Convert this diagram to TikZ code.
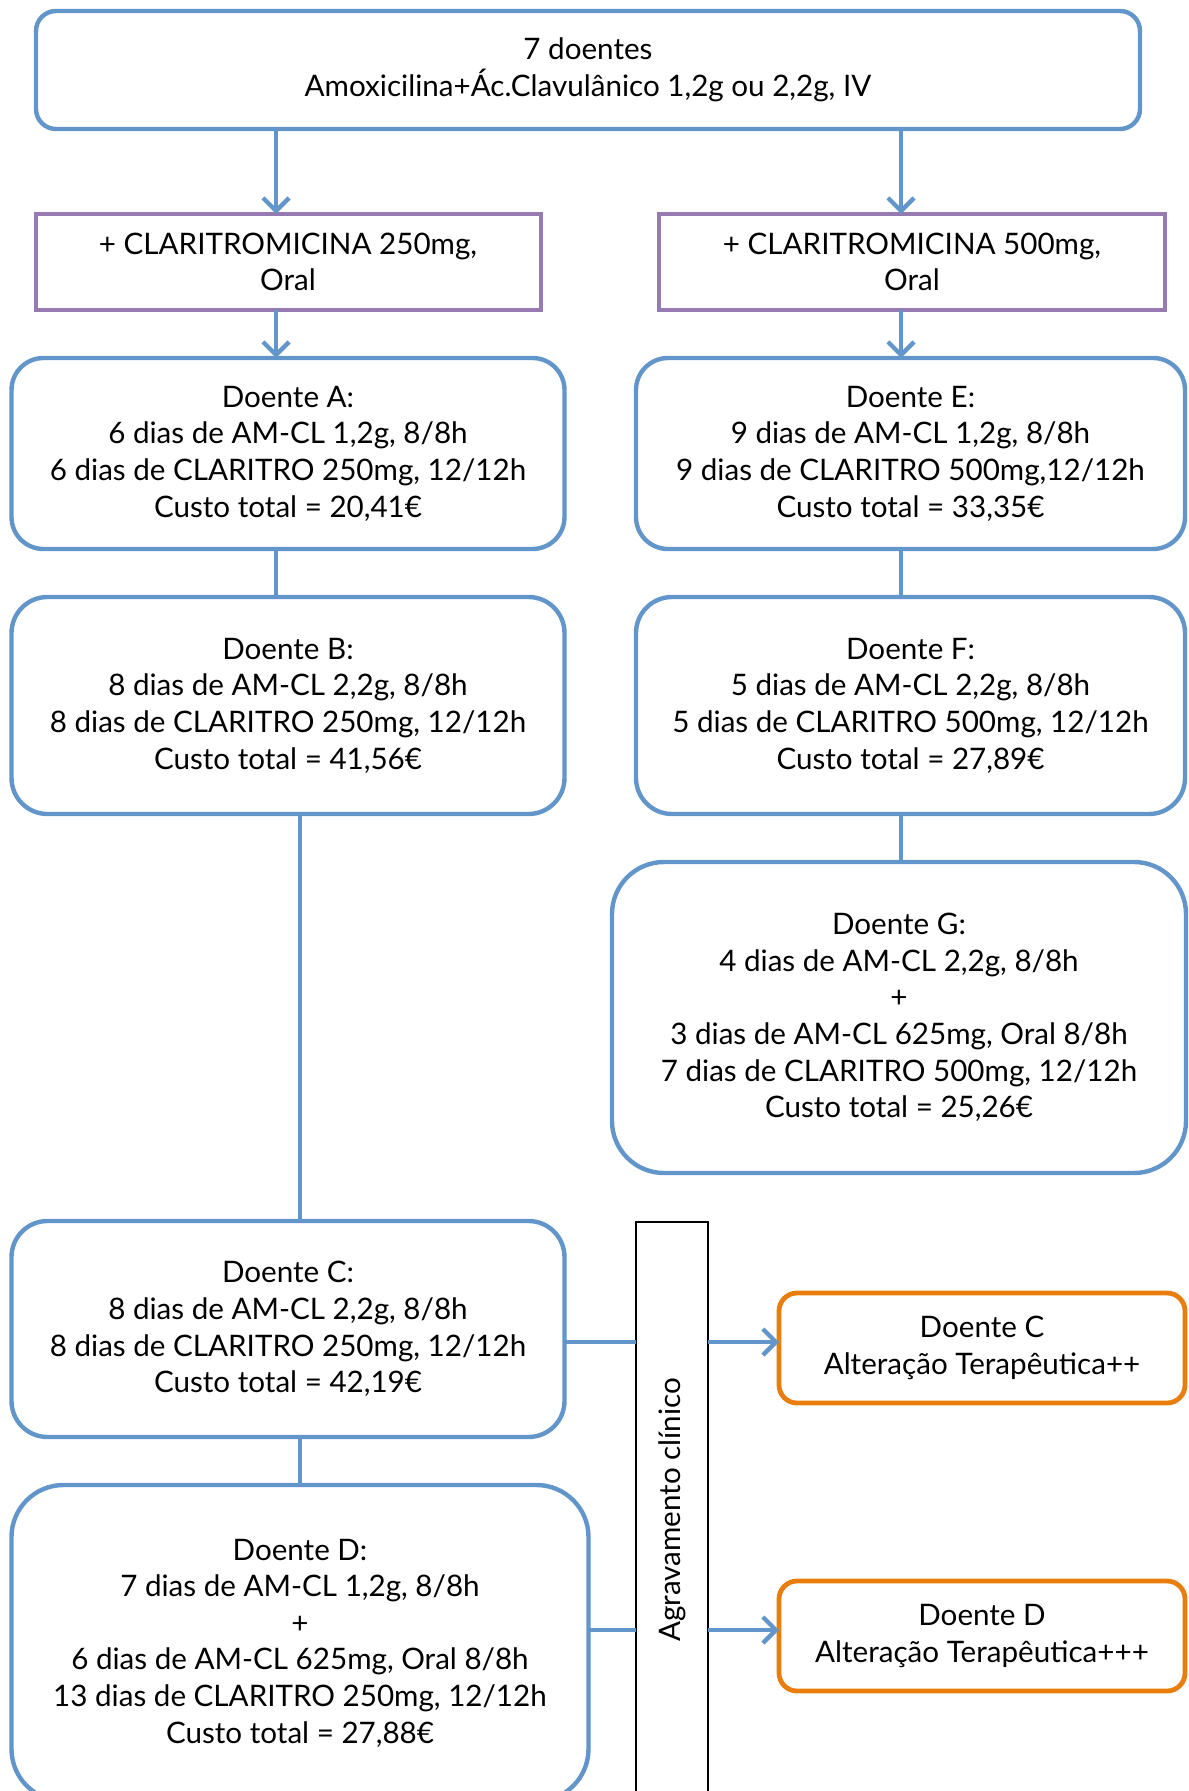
\documentclass[tikz,border=0pt]{standalone}
\usepackage{fontspec}
\setmainfont{Lato}
\usetikzlibrary{arrows.meta}
\definecolor{flowblue}{RGB}{98,150,203}
\definecolor{flowpurple}{RGB}{150,122,178}
\definecolor{floworange}{RGB}{232,126,14}
\begin{document}
\begin{tikzpicture}[x=0.5pt,y=-0.5pt,
  every node/.style={font={\fontsize{14.8pt}{18.3pt}\selectfont}, align=center, inner sep=0pt, outer sep=0pt},
  bluebox/.style={draw=flowblue, line width=2.2pt, fill=white},
  purplebox/.style={draw=flowpurple, line width=2pt, fill=white},
  orangebox/.style={draw=floworange, line width=2.4pt, rounded corners=9pt, fill=white,
    minimum width=203pt, minimum height=55pt},
  sidebar/.style={draw=black, line width=0.7pt, fill=white},
  link/.style={draw=flowblue, line width=2.2pt},
  arrowlink/.style={link, -{Straight Barb[length=6.5pt,width=13pt]}},
]
\useasboundingbox (0,0) rectangle (1188,1791);
\clip (0,0) rectangle (1188,1791);

% columns and rows used by the connectors
\coordinate (xl) at (276,0);
\coordinate (xr) at (901,0);
\coordinate (xd) at (300,0);
\coordinate (yc) at (0,1342);
\coordinate (yd) at (0,1630);

% start box
\node[bluebox, rounded corners=10pt, minimum width=552pt, minimum height=59pt] (top) at (588,70)
  {7 doentes\\Amoxicilina+Ác.Clavulânico 1,2g ou 2,2g, IV};

% the two clarithromycin branches
\node[purplebox, minimum width=252.5pt, minimum height=48pt] (pl) at (288,262)
  {+ CLARITROMICINA 250mg,\\Oral};
\node[purplebox, minimum width=253pt, minimum height=48pt] (pr) at (912,262)
  {+ CLARITROMICINA 500mg,\\Oral};

% patients, left column
\node[bluebox, rounded corners=16pt, minimum width=276.5pt, minimum height=95.5pt] (A) at (288,453.5)
  {Doente A:\\6 dias de AM-CL 1,2g, 8/8h\\6 dias de CLARITRO 250mg, 12/12h\\Custo total = 20,41€};
\node[bluebox, rounded corners=18pt, minimum width=276.5pt, minimum height=108.5pt] (B) at (288,705.5)
  {Doente B:\\8 dias de AM-CL 2,2g, 8/8h\\8 dias de CLARITRO 250mg, 12/12h\\Custo total = 41,56€};
\node[bluebox, rounded corners=18pt, minimum width=276.5pt, minimum height=108pt] (C) at (288,1329)
  {Doente C:\\8 dias de AM-CL 2,2g, 8/8h\\8 dias de CLARITRO 250mg, 12/12h\\Custo total = 42,19€};
\node[bluebox, rounded corners=26pt, minimum width=288.5pt, minimum height=158pt] (D) at (300,1643)
  {Doente D:\\7 dias de AM-CL 1,2g, 8/8h\\+\\6 dias de AM-CL 625mg, Oral 8/8h\\13 dias de CLARITRO 250mg, 12/12h\\Custo total = 27,88€};

% patients, right column
\node[bluebox, rounded corners=16pt, minimum width=274.5pt, minimum height=95.5pt] (E) at (910.5,453.5)
  {Doente E:\\9 dias de AM-CL 1,2g, 8/8h\\9 dias de CLARITRO 500mg,12/12h\\Custo total = 33,35€};
\node[bluebox, rounded corners=18pt, minimum width=274.5pt, minimum height=108.5pt] (F) at (910.5,705.5)
  {Doente F:\\5 dias de AM-CL 2,2g, 8/8h\\5 dias de CLARITRO 500mg, 12/12h\\Custo total = 27,89€};
\node[bluebox, rounded corners=26pt, minimum width=287pt, minimum height=155.5pt] (G) at (899,1017.5)
  {Doente G:\\4 dias de AM-CL 2,2g, 8/8h\\+\\3 dias de AM-CL 625mg, Oral 8/8h\\7 dias de CLARITRO 500mg, 12/12h\\Custo total = 25,26€};

% clinical worsening bar and outcomes
\node[sidebar, minimum width=36pt, minimum height=288pt] (agr) at (672,1510)
  {\rotatebox{90}{Agravamento clínico}};
\node[orangebox] (oc) at (982,1348) {Doente C\\Alteração Terapêutica++};
\node[orangebox] (od) at (982,1636) {Doente D\\Alteração Terapêutica+++};

% connectors
\draw[arrowlink] (top.south -| xl) -- (pl.north -| xl);
\draw[arrowlink] (top.south -| xr) -- (pr.north -| xr);
\draw[arrowlink] (pl.south -| xl) -- (A.north -| xl);
\draw[arrowlink] (pr.south -| xr) -- (E.north -| xr);
\draw[link] (A.south -| xl) -- (B.north -| xl);
\draw[link] (E.south -| xr) -- (F.north -| xr);
\draw[link] (F.south -| xr) -- (G.north -| xr);
\draw[link] (B.south -| xd) -- (C.north -| xd);
\draw[link] (C.south -| xd) -- (D.north -| xd);
\draw[link] (C.east |- yc) -- (agr.west |- yc);
\draw[arrowlink] (agr.east |- yc) -- (oc.west |- yc);
\draw[link] (D.east |- yd) -- (agr.west |- yd);
\draw[arrowlink] (agr.east |- yd) -- (od.west |- yd);
\end{tikzpicture}
\end{document}
